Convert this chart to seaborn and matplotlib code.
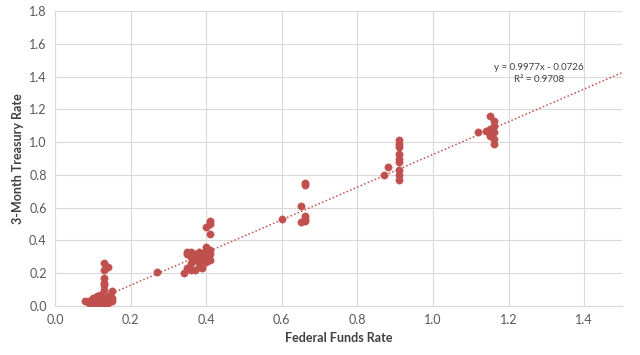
import numpy as np
import pandas as pd
import seaborn as sns
import matplotlib.pyplot as plt

# data
fed_funds = [0.08, 0.09, 0.09, 0.10, 0.10, 0.10, 0.11, 0.11, 0.11, 0.12, 0.12, 0.12, 0.12,
             0.13, 0.13, 0.13, 0.13, 0.14, 0.14, 0.14, 0.15, 0.15, 0.13, 0.13, 0.13, 0.13,
             0.13, 0.13, 0.14, 0.15, 0.12, 0.125,
             0.27,
             0.34, 0.35, 0.35, 0.36, 0.36, 0.36, 0.36, 0.37, 0.37, 0.37, 0.38, 0.38, 0.38,
             0.38, 0.39, 0.39, 0.39, 0.39, 0.40, 0.40, 0.40, 0.40, 0.41, 0.41, 0.41, 0.40,
             0.41, 0.41, 0.41, 0.35, 0.40,
             0.60, 0.65, 0.66, 0.66, 0.65, 0.66, 0.66, 0.66,
             0.87, 0.88, 0.91, 0.91, 0.91, 0.91, 0.91, 0.91, 0.91, 0.91, 0.91,
             1.12, 1.15, 1.16, 1.16, 1.15, 1.16, 1.15, 1.16, 1.16, 1.14]
tbill_3m = [0.03, 0.02, 0.03, 0.02, 0.04, 0.05, 0.01, 0.03, 0.06, 0.02, 0.04, 0.05, 0.07,
            0.00, 0.01, 0.03, 0.05, 0.02, 0.04, 0.06, 0.05, 0.03, 0.10, 0.13, 0.14, 0.17,
            0.22, 0.26, 0.24, 0.09, 0.00, 0.01,
            0.21,
            0.20, 0.23, 0.32, 0.22, 0.26, 0.30, 0.33, 0.22, 0.28, 0.32, 0.24, 0.27, 0.30,
            0.33, 0.23, 0.29, 0.31, 0.32, 0.27, 0.30, 0.33, 0.36, 0.28, 0.32, 0.34, 0.48,
            0.44, 0.50, 0.52, 0.33, 0.34,
            0.53, 0.61, 0.74, 0.75, 0.51, 0.52, 0.53, 0.55,
            0.80, 0.85, 0.97, 0.99, 1.01, 0.88, 0.90, 0.93, 0.77, 0.80, 0.83,
            1.06, 1.16, 1.13, 1.10, 1.08, 1.06, 1.04, 1.02, 0.99, 1.07]

slope = 0.9977
intercept = -0.0726
r2 = 0.9708
trend_x = [0.15, 1.5]

df = pd.DataFrame({'Federal Funds Rate': fed_funds, '3-Month Treasury Rate': tbill_3m})

red = '#C0504D'
sns.set_style('white')
plt.rcParams['font.family'] = ['Lato', 'DejaVu Sans']

fig = plt.figure(figsize=(6.4, 3.55), dpi=100)
ax = fig.add_axes([0.086, 0.138, 0.886, 0.831])

sns.scatterplot(data=df, x='Federal Funds Rate', y='3-Month Treasury Rate', color=red,
                s=28, edgecolor=red, linewidth=0.3, ax=ax, zorder=3)

tx = np.array(trend_x)
ax.plot(tx, slope * tx + intercept, color=red, linestyle=(0, (1, 1.5)), linewidth=1.1, zorder=2)

# trendline label, Excel style
ax.text(1.28, 1.455, f'y = {slope}x - {abs(intercept)}', fontsize=7, color='#404040',
        ha='center', va='center')
ax.text(1.28, 1.385, f'R² = {r2}', fontsize=7, color='#404040', ha='center', va='center')

ax.set_xlim(0, 1.5)
ax.set_ylim(0, 1.8)
ax.set_xticks(np.arange(0, 1.41, 0.2))
ax.set_yticks(np.arange(0, 1.81, 0.2))
ax.xaxis.set_major_formatter(plt.FormatStrFormatter('%.1f'))
ax.yaxis.set_major_formatter(plt.FormatStrFormatter('%.1f'))
ax.grid(True, color='#D9D9D9', linewidth=0.8)
ax.set_axisbelow(True)
for side in ['top', 'right']:
    ax.spines[side].set_visible(False)
for side in ['left', 'bottom']:
    ax.spines[side].set_color('#D9D9D9')
ax.tick_params(axis='both', labelsize=9, colors='#595959', length=0, pad=6)
ax.set_xlabel('Federal Funds Rate', fontsize=9, fontweight='bold', color='#404040', labelpad=4)
ax.set_ylabel('3-Month Treasury Rate', fontsize=9, fontweight='bold', color='#404040', labelpad=4)

fig.savefig('out.png', dpi=100)
